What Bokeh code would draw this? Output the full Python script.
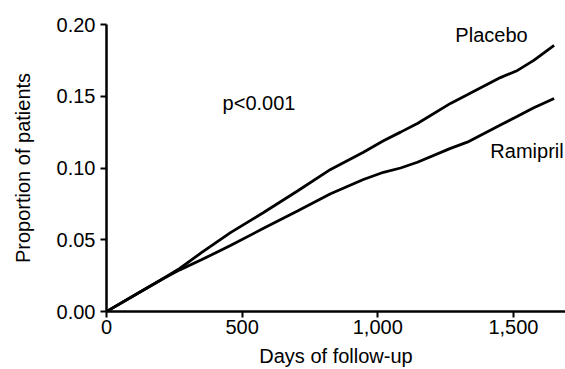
from bokeh.plotting import figure
from bokeh.models import Range1d, NumeralTickFormatter, FixedTicker, Label
from bokeh.embed import file_html
from bokeh.resources import INLINE

days = [0, 100, 200, 270, 350, 457, 579, 704, 826, 947, 1021, 1084, 1146, 1268, 1330, 1452, 1515, 1575, 1650]
placebo = [0, 0.011, 0.022, 0.030, 0.041, 0.055, 0.069, 0.084, 0.099, 0.111, 0.119, 0.125, 0.131, 0.145, 0.151, 0.163, 0.168, 0.175, 0.1855]
ramipril = [0, 0.011, 0.022, 0.029, 0.036, 0.046, 0.058, 0.070, 0.082, 0.092, 0.097, 0.100, 0.104, 0.1137, 0.118, 0.130, 0.136, 0.142, 0.1485]

x_ticks = [0, 500, 1000, 1500]
y_ticks = [0.0, 0.05, 0.10, 0.15, 0.20]

FONT = "Liberation Sans"
FS = "20px"

p = figure(width=565, height=369, output_backend="svg", toolbar_location=None,
           x_range=Range1d(0, 1692), y_range=Range1d(0, 0.2),
           min_border_left=106, min_border_top=24, min_border_bottom=58, min_border_right=0)
p.outline_line_color = None
p.grid.grid_line_color = None
p.background_fill_color = "white"

p.line(days, placebo, line_color="black", line_width=2.8)
p.line(days, ramipril, line_color="black", line_width=2.8)

for ax in (p.xaxis[0], p.yaxis[0]):
    ax.axis_line_width = 2.5
    ax.axis_line_color = "black"
    ax.major_tick_line_width = 2
    ax.major_tick_out = 6
    ax.major_tick_in = 0
    ax.minor_tick_line_color = None
    ax.major_label_text_font = FONT
    ax.major_label_text_font_size = FS
    ax.major_label_text_color = "black"
    ax.axis_label_text_font = FONT
    ax.axis_label_text_font_size = FS
    ax.axis_label_text_font_style = "normal"
    ax.axis_label_text_color = "black"

p.xaxis.ticker = FixedTicker(ticks=x_ticks)
p.yaxis.ticker = FixedTicker(ticks=y_ticks)
p.xaxis.formatter = NumeralTickFormatter(format="0,0")
p.yaxis.formatter = NumeralTickFormatter(format="0.00")
p.xaxis.axis_label = "Days of follow-up"
p.yaxis.axis_label = "Proportion of patients"
p.xaxis.major_label_standoff = 2
p.xaxis.axis_label_standoff = 8
p.yaxis.major_label_standoff = 5
p.yaxis.axis_label_standoff = 20

for txt, x, y in [("Placebo", 1286, 0.1925), ("Ramipril", 1415, 0.1116), ("p<0.001", 428, 0.145)]:
    p.add_layout(Label(x=x, y=y, text=txt, text_font=FONT, text_font_size=FS,
                       text_baseline="middle", text_align="left", text_color="black"))

open("out.html", "w").write(file_html(p, INLINE))
